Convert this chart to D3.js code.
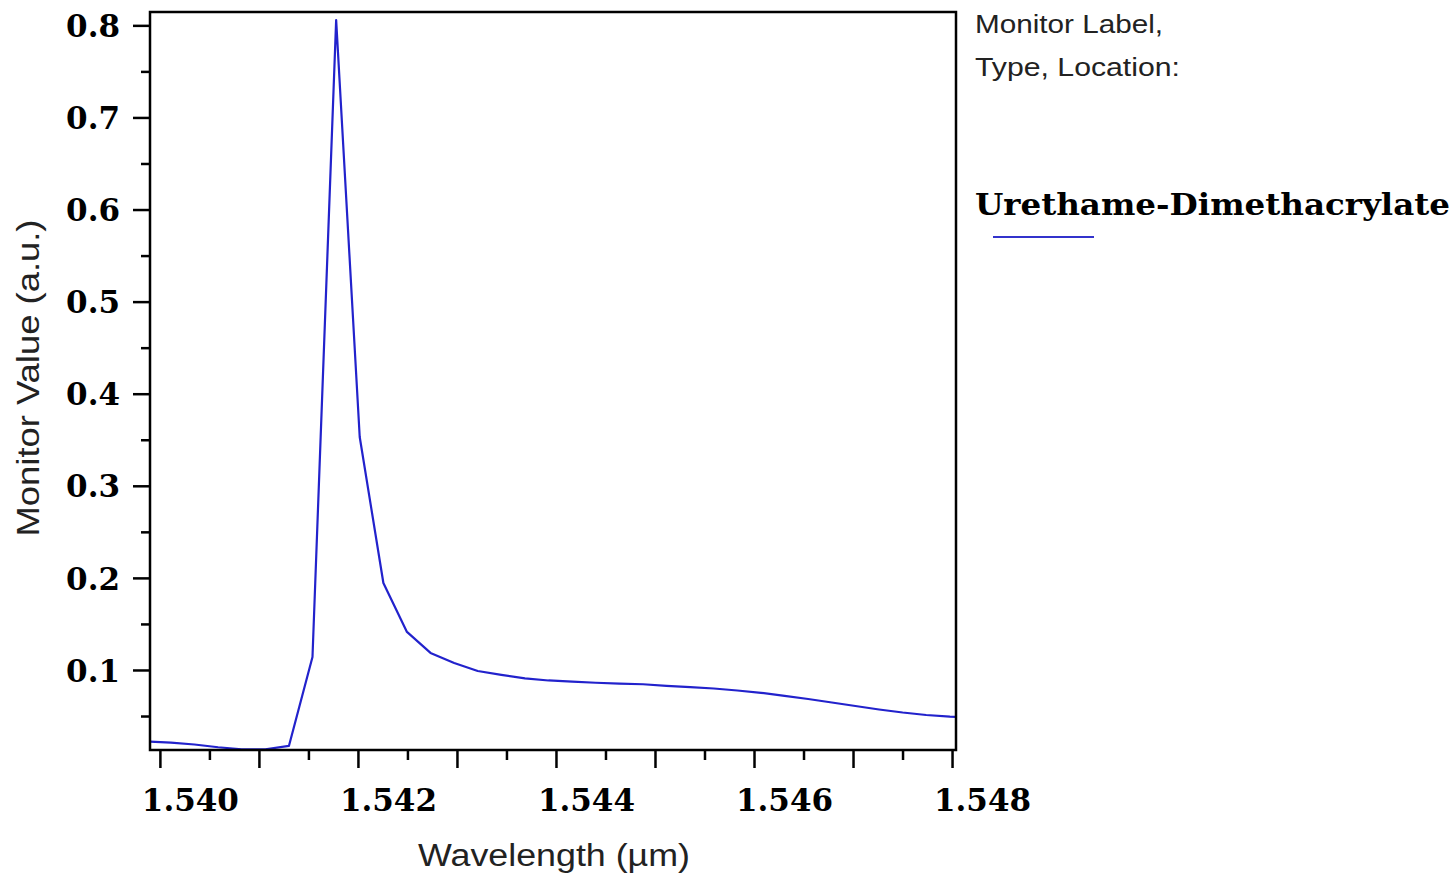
<!DOCTYPE html>
<html lang="en">
<head>
<meta charset="UTF-8">
<script src="https://d3js.org/d3.v7.min.js"></script>
<title>Monitor Value</title>
<style>
  body { margin: 0; background: #fff; }
</style>
</head>
<body>
<script>
    // wavelength samples (um) and monitor values
    var wavelength = [1.539873, 1.540111, 1.540349, 1.540588, 1.540826, 1.541065, 1.541303,
        1.541541, 1.541780, 1.542018, 1.542257, 1.542495, 1.542733, 1.542972, 1.543210,
        1.543448, 1.543687, 1.543925, 1.544164, 1.544402, 1.544640, 1.544879, 1.545117,
        1.545356, 1.545594, 1.545832, 1.546071, 1.546309, 1.546547, 1.546786, 1.547024,
        1.547263, 1.547501, 1.547739, 1.547978, 1.548216];
    var monitor = [0.0224, 0.0211, 0.0191, 0.0161, 0.0139, 0.0139, 0.0175,
        0.1141, 0.8058, 0.3530, 0.1945, 0.1413, 0.1185, 0.1076, 0.0989,
        0.0946, 0.0908, 0.0886, 0.0873, 0.0861, 0.0851, 0.0845, 0.0828,
        0.0813, 0.0799, 0.0777, 0.0752, 0.0718, 0.0685, 0.0647, 0.0609,
        0.0571, 0.0538, 0.0511, 0.0493, 0.0484];

    var xMajor = [1.540, 1.541, 1.542, 1.543, 1.544, 1.545, 1.546, 1.547, 1.548];
    var xMinor = [1.5405, 1.5415, 1.5425, 1.5435, 1.5445, 1.5455, 1.5465, 1.5475];
    var xLabels = ["1.540", "1.542", "1.544", "1.546", "1.548"];
    var yMajor = [0.1, 0.2, 0.3, 0.4, 0.5, 0.6, 0.7, 0.8];
    var yMinor = [0.05, 0.15, 0.25, 0.35, 0.45, 0.55, 0.65, 0.75];

    var seriesName = "Urethame-Dimethacrylate";

    var width = 1456, height = 875;
    // plot box (window.top is read-only, so no bare "top")
    var boxL = 150, boxR = 956, boxT = 12, boxB = 750;

    var svg = d3.select("body").append("svg")
        .attr("width", width)
        .attr("height", height);

    var x = d3.scaleLinear().domain([1.53990, 1.54804]).range([boxL, boxR]);
    var y = d3.scaleLinear().domain([0.0131, 0.8145]).range([boxB, boxT]);

    var serif = "'DejaVu Serif', serif";
    var sans = "'Liberation Sans', Arial, sans-serif";

    // x axis: minor then major ticks
    svg.append("g")
        .attr("transform", "translate(0," + boxB + ")")
        .call(d3.axisBottom(x).tickValues(xMinor).tickSize(10).tickFormat(""))
        .call(function (g) { g.select(".domain").remove(); })
        .selectAll("line").attr("stroke-width", 2.5);

    var xg = svg.append("g")
        .attr("transform", "translate(0," + boxB + ")")
        .call(d3.axisBottom(x).tickValues(xMajor).tickSize(18)
            .tickFormat(function (d) {
                var s = d3.format(".3f")(d);
                return xLabels.indexOf(s) >= 0 ? s : "";
            }));
    xg.select(".domain").remove();
    xg.selectAll("line").attr("stroke-width", 2.5);
    xg.selectAll("text")
        .attr("x", 30)
        .attr("y", 61)
        .attr("dy", 0)
        .attr("font-family", serif)
        .attr("font-weight", "bold")
        .attr("font-size", 31)
        .attr("fill", "#000");

    // y axis
    svg.append("g")
        .attr("transform", "translate(" + boxL + ",0)")
        .call(d3.axisLeft(y).tickValues(yMinor).tickSize(9).tickFormat(""))
        .call(function (g) { g.select(".domain").remove(); })
        .selectAll("line").attr("stroke-width", 2.5);

    var yg = svg.append("g")
        .attr("transform", "translate(" + boxL + ",0)")
        .call(d3.axisLeft(y).tickValues(yMajor).tickSize(17).tickPadding(13)
            .tickFormat(d3.format(".1f")));
    yg.select(".domain").remove();
    yg.selectAll("line").attr("stroke-width", 2.5);
    yg.selectAll("text")
        .attr("dy", "0.36em")
        .attr("font-family", serif)
        .attr("font-weight", "bold")
        .attr("font-size", 31)
        .attr("fill", "#000");

    // clipped data line
    svg.append("clipPath").attr("id", "plot")
        .append("rect")
        .attr("x", boxL).attr("y", boxT)
        .attr("width", boxR - boxL).attr("height", boxB - boxT);

    var pts = wavelength.map(function (w, i) { return [w, monitor[i]]; });
    var line = d3.line()
        .x(function (d) { return x(d[0]); })
        .y(function (d) { return y(d[1]); });

    svg.append("path")
        .datum(pts)
        .attr("clip-path", "url(#plot)")
        .attr("d", line)
        .attr("fill", "none")
        .attr("stroke", "#2222cc")
        .attr("stroke-width", 2.2)
        .attr("stroke-linejoin", "round");

    // frame
    svg.append("rect")
        .attr("x", boxL).attr("y", boxT)
        .attr("width", boxR - boxL).attr("height", boxB - boxT)
        .attr("fill", "none")
        .attr("stroke", "#000")
        .attr("stroke-width", 2.5);

    // axis titles
    svg.append("text")
        .attr("x", (boxL + boxR) / 2 + 1)
        .attr("y", 866)
        .attr("text-anchor", "middle")
        .attr("font-family", sans)
        .attr("font-size", 31)
        .attr("textLength", 272)
        .attr("lengthAdjust", "spacingAndGlyphs")
        .attr("fill", "#222")
        .text("Wavelength (\u00b5m)");

    svg.append("text")
        .attr("transform", "translate(39,378) rotate(-90)")
        .attr("text-anchor", "middle")
        .attr("font-family", sans)
        .attr("font-size", 31)
        .attr("textLength", 317)
        .attr("lengthAdjust", "spacingAndGlyphs")
        .attr("fill", "#222")
        .text("Monitor Value (a.u.)");

    // legend
    svg.append("text")
        .attr("x", 975).attr("y", 33)
        .attr("font-family", sans)
        .attr("font-size", 25)
        .attr("textLength", 188)
        .attr("lengthAdjust", "spacingAndGlyphs")
        .attr("fill", "#222")
        .text("Monitor Label,");

    svg.append("text")
        .attr("x", 975).attr("y", 76)
        .attr("font-family", sans)
        .attr("font-size", 25)
        .attr("textLength", 205)
        .attr("lengthAdjust", "spacingAndGlyphs")
        .attr("fill", "#222")
        .text("Type, Location:");

    svg.append("text")
        .attr("x", 975).attr("y", 215)
        .attr("font-family", serif)
        .attr("font-weight", "bold")
        .attr("font-size", 29)
        .attr("textLength", 475)
        .attr("lengthAdjust", "spacingAndGlyphs")
        .attr("fill", "#000")
        .text(seriesName);

    svg.append("line")
        .attr("x1", 993).attr("x2", 1094)
        .attr("y1", 237).attr("y2", 237)
        .attr("stroke", "#3333cc")
        .attr("stroke-width", 2.2);
</script>
</body>
</html>
